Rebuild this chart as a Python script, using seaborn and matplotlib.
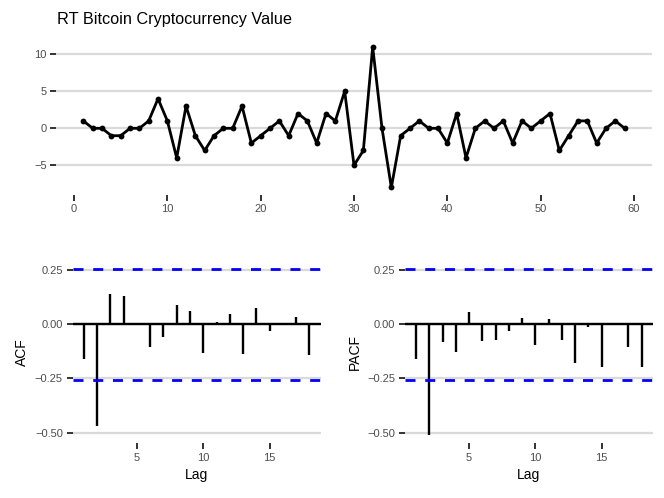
# Time series with ACF and PACF panels
import numpy as np
import pandas as pd
import seaborn as sns
import matplotlib.pyplot as plt

sns.set_theme(style='white')
plt.rcParams['font.family'] = ['Liberation Sans', 'DejaVu Sans']
plt.rcParams['lines.scale_dashes'] = False

# Data
time_idx = list(range(1, 60))
rt_value = [1, 0, 0, -1, -1, 0, 0, 1, 4, 1,
            -4, 3, -1, -3, -1, 0, 0, 3, -2, -1,
            0, 1, -1, 2, 1, -2, 2, 1, 5, -5,
            -3, 11, 0, -8, -1, 0, 1, 0, 0, -2,
            2, -4, 0, 1, 0, 1, -2, 1, 0, 1,
            2, -3, -1, 1, 1, -2, 0, 1, 0]

lags = list(range(1, 19))
acf_vals = [-0.161, -0.471, 0.138, 0.132, 0.001, -0.103, -0.060, 0.089, 0.063,
            -0.133, 0.012, 0.046, -0.137, 0.077, -0.032, 0.002, 0.032, -0.144]
pacf_vals = [-0.161, -0.509, -0.081, -0.129, 0.058, -0.078, -0.072, -0.032, 0.028,
             -0.094, 0.026, -0.072, -0.180, -0.014, -0.199, 0.001, -0.107, -0.198]
conf_limit = 1.96 / np.sqrt(len(rt_value))

top_xticks = [0, 10, 20, 30, 40, 50, 60]
top_yticks = [-5, 0, 5, 10]
top_ylabels = ['\u22125', '0', '5', '10']
lag_ticks = [5, 10, 15]
corr_ticks = [-0.5, -0.25, 0, 0.25]
corr_labels = ['\u22120.50', '\u22120.25', '0.00', '0.25']

df = pd.DataFrame({'t': time_idx, 'value': rt_value})

grid_col = '#DADADA'
tick_col = '#4D4D4D'


def style_axis(ax):
    for s in ax.spines.values():
        s.set_visible(False)
    ax.grid(False)
    ax.tick_params(axis='both', length=4.5, width=1.4, color='#333333',
                   labelsize=8, labelcolor=tick_col, pad=2.5,
                   bottom=True, left=True)


fig = plt.figure(figsize=(6.64, 4.98), dpi=100)

# top panel: the series
ax0 = fig.add_axes([0.0848, 0.6094, 0.8967, 0.3105])
for yv in top_yticks:
    ax0.axhline(yv, color=grid_col, lw=1.6, zorder=0)
sns.lineplot(data=df, x='t', y='value', ax=ax0, color='black', lw=2,
             marker='o', markersize=4.2, markeredgewidth=0)
ax0.set_xlim(-1.9, 61.9)
ax0.set_ylim(-8.95, 11.95)
ax0.set_xticks(top_xticks)
ax0.set_yticks(top_yticks)
ax0.set_yticklabels(top_ylabels)
ax0.set_xlabel('')
ax0.set_ylabel('')
style_axis(ax0)
fig.text(0.0858, 1 - 24 / 498, 'RT Bitcoin Cryptocurrency Value',
         ha='left', va='baseline', fontsize=11.7, color='black')


def corr_panel(rect, vals, ylab):
    ax = fig.add_axes(rect)
    for yv in corr_ticks:
        ax.axhline(yv, color=grid_col, lw=1.6, zorder=0)
    ax.axhline(0, color='black', lw=1.7, zorder=2)
    ax.vlines(lags, 0, vals, color='black', lw=1.7, zorder=3)
    for c in (conf_limit, -conf_limit):
        ax.axhline(c, color='blue', lw=2, dashes=(7.2, 7.0), zorder=4)
    ax.set_xlim(0.15, 18.85)
    ax.set_ylim(-0.547, 0.293)
    ax.set_xticks(lag_ticks)
    ax.set_yticks(corr_ticks)
    ax.set_yticklabels(corr_labels)
    ax.set_xlabel('Lag', fontsize=10, color='black', labelpad=4)
    ax.set_ylabel(ylab, fontsize=10, color='black', labelpad=4)
    style_axis(ax)
    return ax


corr_panel([0.1093, 0.1107, 0.3737, 0.3658], acf_vals, 'ACF')
corr_panel([0.6095, 0.1107, 0.3737, 0.3658], pacf_vals, 'PACF')

fig.savefig('out.png', dpi=100)
